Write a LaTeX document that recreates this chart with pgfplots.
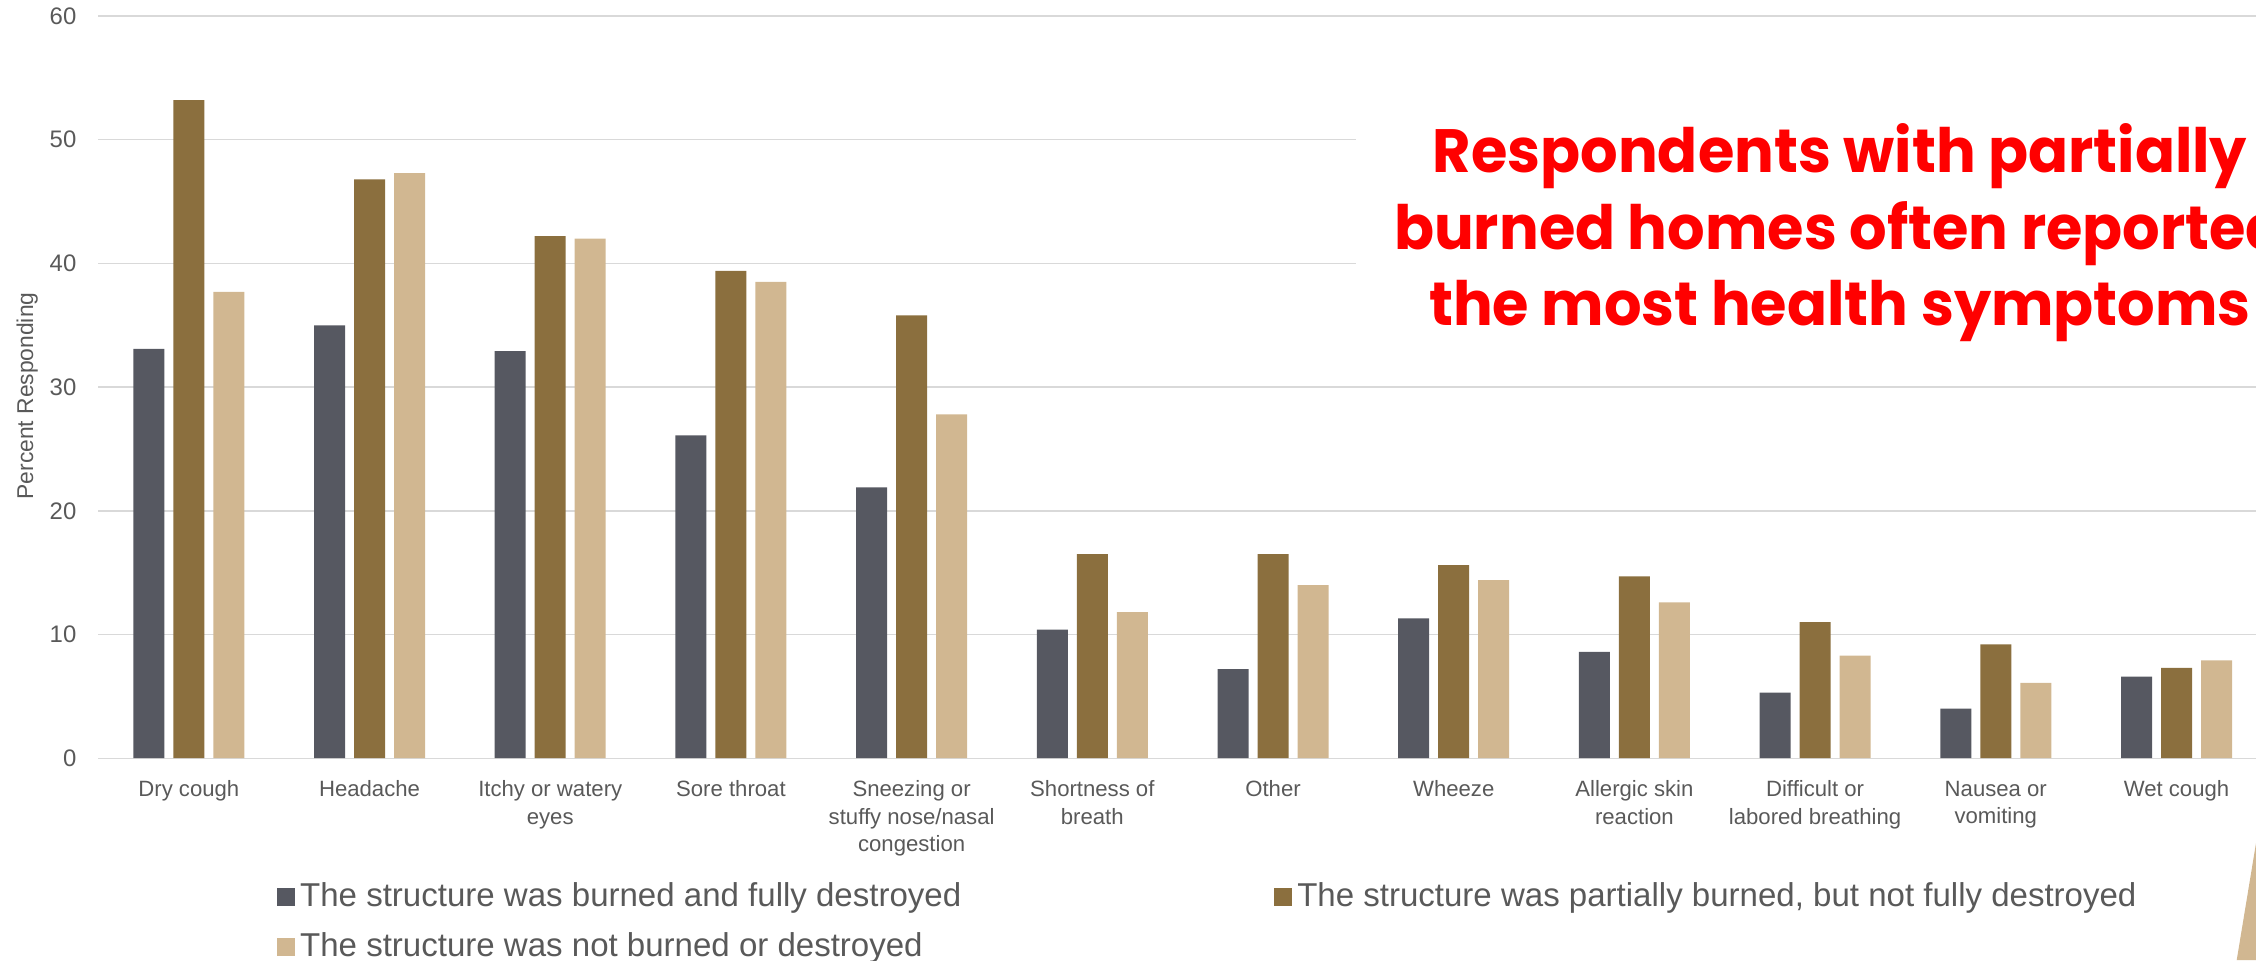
\documentclass[border=0pt]{standalone}
\usepackage{pgfplots}
\pgfplotsset{compat=1.18}
\usepackage{fontspec}
\setmainfont{Liberation Sans}
\newfontfamily\titlefont{Poppins}[FakeStretch=0.965]
\definecolor{cDark}{RGB}{86,88,97}
\definecolor{cBrown}{RGB}{139,111,62}
\definecolor{cTan}{RGB}{209,183,145}
\definecolor{cGrid}{RGB}{217,217,217}
\definecolor{cText}{RGB}{89,89,89}
\definecolor{cRed}{RGB}{255,0,0}

\begin{document}
\begin{tikzpicture}
\begin{axis}[
  at={(9.85mm,-75.82mm)}, anchor=south west,
  scale only axis, width=215.75mm, height=74.22mm,
  xmin=-0.5, xmax=11.44, ymin=0, ymax=60,
  ybar=0.9mm, bar width=3.1mm,
  axis line style={draw=none},
  major tick length=0pt,
  ytick={0,10,...,60},
  ymajorgrids, grid style={cGrid, line width=0.4pt},
  xtick={0,...,11},
  xticklabels={Dry cough, Headache, {Itchy or watery\\eyes}, Sore throat, {Sneezing or\\stuffy nose/nasal\\congestion}, {Shortness of\\breath}, Other, Wheeze, {Allergic skin\\reaction}, {Difficult or\\labored breathing}, {Nausea or\\vomiting}, Wet cough},
  xticklabel style={align=center, font=\fontsize{6.3}{7.8}\selectfont, text=cText, inner sep=0pt, yshift=-2.2mm},
  yticklabel style={font=\fontsize{6.8}{8}\selectfont, text=cText, inner sep=0pt, xshift=-2.15mm},
  /pgf/number format/assume math mode=true,
  ylabel={Percent Responding},
  ylabel style={at={(axis description cs:-0.0331,0.488)}, anchor=center, font=\fontsize{6.5}{8}\selectfont, text=cText},
  legend columns=2,
  legend style={at={(axis description cs:0.0776,-0.1505)}, anchor=north west, draw=none, fill=none,
    font=\fontsize{9.4}{11}\selectfont, text=cText,
    /tikz/every even column/.append style={column sep=30.8mm}, row sep=1.05mm, nodes={inner sep=0.5mm}},
  legend cell align=left,
  legend image code/.code={\fill[#1] (0mm,-0.9mm) rectangle (1.8mm,0.9mm);},
]
% burned and fully destroyed
\addplot[fill=cDark, draw=none] coordinates {(0,33.1) (1,35.0) (2,32.9) (3,26.1) (4,21.9) (5,10.4) (6,7.2) (7,11.3) (8,8.6) (9,5.3) (10,4.0) (11,6.6)};
% partially burned
\addplot[fill=cBrown, draw=none] coordinates {(0,53.2) (1,46.8) (2,42.2) (3,39.4) (4,35.8) (5,16.5) (6,16.5) (7,15.6) (8,14.7) (9,11.0) (10,9.2) (11,7.3)};
% not burned
\addplot[fill=cTan, draw=none] coordinates {(0,37.7) (1,47.3) (2,42.0) (3,38.5) (4,27.8) (5,11.8) (6,14.0) (7,14.4) (8,12.6) (9,8.3) (10,6.1) (11,7.9)};
\legend{The structure was burned and fully destroyed, {The structure was partially burned, but not fully destroyed}, The structure was not burned or destroyed}
\end{axis}

\begin{scope}[x=0.1mm, y=-0.1mm]
  % title box over the grid
  \fill[white] (1356,85) rectangle (2300,350);
  \node[font=\titlefont\bfseries\fontsize{17.4}{21.8}\selectfont, text=cRed, align=center, anchor=north, inner sep=0pt]
    at (1840,123) {Respondents with partially\\burned homes often reported\\the most health symptoms};
  \fill[cTan] (2236.7,960) -- (2256,843) -- (2300,843) -- (2300,960) -- cycle;
  \pgfresetboundingbox
  \useasboundingbox (0,0) rectangle (2256,960);
\end{scope}
\end{tikzpicture}
\end{document}
